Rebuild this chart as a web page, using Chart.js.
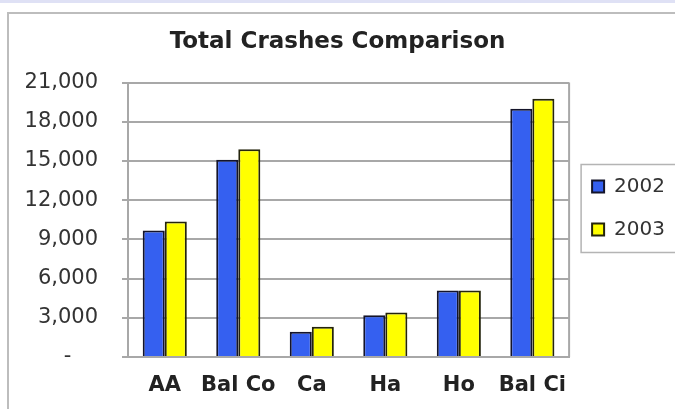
<!DOCTYPE html>
<html>
<head>
<meta charset="utf-8">
<script src="https://cdn.jsdelivr.net/npm/chart.js@4.4.1/dist/chart.umd.min.js"></script>
<style>
  html, body { margin: 0; background: #fff; overflow: hidden; }
  .strip { position: absolute; left: 0; top: 0; width: 675px; height: 3px; background: #dfe1f5; }
  .hline { position: absolute; left: 7px; top: 12px; width: 668px; height: 2px; background: #bdbdbd; }
  .vline { position: absolute; left: 7px; top: 12px; width: 2px; height: 397px; background: #bdbdbd; }
  canvas { position: absolute; left: 0; top: 0; }
</style>
</head>
<body>
<div class="strip"></div>
<div class="hline"></div>
<div class="vline"></div>
<canvas id="crashChart" width="675" height="409"></canvas>
<script>
// values
const areas = ['AA', 'Bal Co', 'Ca', 'Ha', 'Ho', 'Bal Ci'];
const crashes2002 = [9680, 15100, 1940, 3190, 5080, 19000];
const crashes2003 = [10370, 15900, 2320, 3400, 5080, 19770];
const yearLabels = ['2002', '2003'];

// box round the legend and the right edge of the plot
const frames = {
    id: 'frames',
    beforeDatasetsDraw(chart) {
        const { ctx, chartArea } = chart;
        ctx.save();
        ctx.strokeStyle = '#a8a8a8';
        ctx.lineWidth = 2;
        ctx.beginPath();
        ctx.moveTo(chartArea.right, chartArea.top);
        ctx.lineTo(chartArea.right, chartArea.bottom);
        ctx.stroke();
        ctx.restore();
    },
    afterDraw(chart) {
        const lg = chart.legend;
        const boxes = lg.legendHitBoxes;
        if (!boxes || !boxes.length) return;
        const top = boxes[0].top - 12;
        const bottom = boxes[boxes.length - 1].top + boxes[boxes.length - 1].height + 13;
        const ctx = chart.ctx;
        ctx.save();
        ctx.strokeStyle = '#b4b4b4';
        ctx.lineWidth = 1.5;
        ctx.beginPath();
        ctx.moveTo(chart.width, top);
        ctx.lineTo(lg.left + 12, top);
        ctx.lineTo(lg.left + 12, bottom);
        ctx.lineTo(chart.width, bottom);
        ctx.stroke();
        ctx.restore();
    }
};

new Chart(document.getElementById('crashChart'), {
    type: 'bar',
    data: {
        labels: areas,
        datasets: [{
            label: yearLabels[0],
            data: crashes2002,
            backgroundColor: '#3560f0',
            borderColor: '#14142a',
            borderWidth: 2
        }, {
            label: yearLabels[1],
            data: crashes2003,
            backgroundColor: '#ffff00',
            borderColor: '#24240c',
            borderWidth: 2
        }]
    },
    options: {
        responsive: false,
        animation: false,
        layout: { padding: 0 },
        datasets: {
            bar: { categoryPercentage: 0.6, barPercentage: 1.0 }
        },
        plugins: {
            title: {
                display: true,
                text: 'Total Crashes Comparison',
                color: '#222',
                font: { family: 'DejaVu Sans', size: 23, weight: 'bold' },
                padding: { top: 28, bottom: 27 }
            },
            legend: {
                position: 'right',
                align: 'start',
                fullSize: false,
                title: { display: true, text: '', padding: { top: 61, bottom: 0 }, font: { size: 10, lineHeight: 1 } },
                labels: {
                    boxWidth: 12,
                    boxHeight: 12,
                    padding: 23,
                    color: '#333',
                    font: { family: 'DejaVu Sans', size: 20 }
                }
            },
            tooltip: { enabled: false }
        },
        scales: {
            x: {
                grid: { display: false, drawTicks: false },
                border: { display: true, color: '#a8a8a8', width: 2 },
                ticks: {
                    color: '#222',
                    padding: 16,
                    maxRotation: 0,
                    minRotation: 0,
                    autoSkip: false,
                    font: { family: 'DejaVu Sans', size: 21, weight: 'bold' }
                },
                afterFit(scale) { scale.height = 52; }
            },
            y: {
                min: 0,
                max: 21000,
                grid: { color: '#a8a8a8', lineWidth: 2, tickLength: 6 },
                border: { display: true, color: '#a8a8a8', width: 2 },
                ticks: {
                    stepSize: 3000,
                    padding: 24,
                    color: '#333',
                    font: { family: 'DejaVu Sans', size: 21 },
                    callback: (v) => v === 0 ? '-    ' : v.toLocaleString('en-US')
                },
                afterFit(scale) { scale.width = 128; }
            }
        }
    },
    plugins: [frames]
});
</script>
</body>
</html>
